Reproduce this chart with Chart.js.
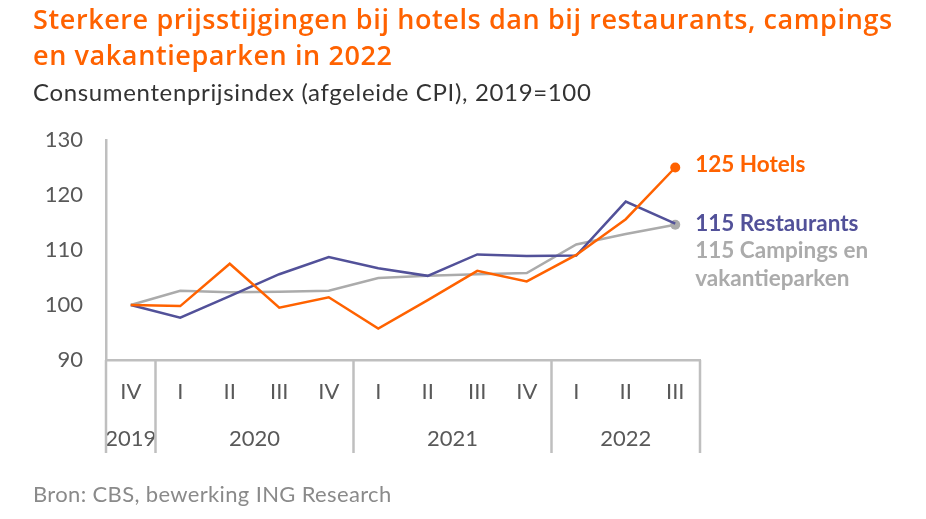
<!DOCTYPE html>
<html>
<head>
<meta charset="utf-8">
<script src="https://cdn.jsdelivr.net/npm/chart.js@4"></script>
<style>
  body { margin: 0; background: #fff; font-family: Lato, sans-serif; }
  #wrap { position: relative; width: 926px; height: 519px; overflow: hidden; }
  #chart { position: absolute; left: 0; top: 0; }
  .title { position: absolute; left: 33px; top: 1px; color: #ff6200; font-family: "Open Sans", sans-serif; font-weight: 600; font-size: 27px; line-height: 36px; letter-spacing: 0.6px; white-space: nowrap; font-variant-ligatures: none; }
  .sub { position: absolute; left: 33px; top: 77px; color: #333; font-size: 24px; line-height: 30px; letter-spacing: 0.65px; white-space: nowrap; font-variant-ligatures: none; }
  .src { position: absolute; left: 33px; top: 481px; color: #8a8a8a; font-size: 22px; line-height: 26px; letter-spacing: 0.35px; white-space: nowrap; }
</style>
</head>
<body>
<div id="wrap">
  <canvas id="chart" width="926" height="519"></canvas>
  <div class="title">Sterkere prijsstijgingen bij hotels dan bij restaurants, campings<br>en vakantieparken in 2022</div>
  <div class="sub">Consumentenprijsindex (afgeleide CPI), 2019=100</div>
  <div class="src">Bron: CBS, bewerking ING Research</div>
</div>
<script>
const quarters = ["IV", "I", "II", "III", "IV", "I", "II", "III", "IV", "I", "II", "III"];
const years = ["2019", "2020", "2021", "2022"];
const quartersPerYear = [1, 4, 4, 3];

const hotels = [100, 99.8, 107.5, 99.5, 101.4, 95.7, 100.9, 106.2, 104.3, 109.1, 115.6, 125];
const restaurants = [100, 97.7, 101.6, 105.6, 108.7, 106.7, 105.3, 109.2, 108.9, 109, 118.8, 114.8];
const campings = [100, 102.6, 102.3, 102.4, 102.6, 104.9, 105.3, 105.6, 105.8, 111, 112.9, 114.6];

const ORANGE = "#ff6200";
const PURPLE = "#525199";
const GREY = "#ababab";
const AXIS = "#bfbfbf";

// year label sits in the middle of its quarters, separators at the year edges
const yearCenters = [];
const yearEdges = [0];
let start = 0;
quartersPerYear.forEach((n) => {
  yearCenters.push(start + (n - 1) / 2);
  start += n;
  yearEdges.push(start);
});

const last = quarters.length - 1;
const endDot = (ctx) => (ctx.dataIndex === last ? 5 : 0);

const endLabels = [
  { data: hotels, color: ORANGE, lines: ["Hotels"], dy: 4 },
  { data: restaurants, color: PURPLE, lines: ["Restaurants"], dy: 7 },
  { data: campings, color: GREY, lines: ["Campings en", "vakantieparken"], dy: 33 },
];

const extras = {
  id: "extras",
  afterDraw(chart) {
    const { ctx, chartArea, scales } = chart;
    const x = scales.x;
    const x2 = scales.x2;
    const half = (x.getPixelForValue(1) - x.getPixelForValue(0)) / 2;
    ctx.save();
    ctx.strokeStyle = AXIS;
    ctx.lineWidth = 2.5;
    yearEdges.forEach((e) => {
      const px = x.getPixelForValue(0) - half + e * half * 2;
      ctx.beginPath();
      ctx.moveTo(px, chartArea.bottom);
      ctx.lineTo(px, x2.bottom);
      ctx.stroke();
    });

    ctx.font = "700 22.5px Lato";
    ctx.textAlign = "left";
    ctx.textBaseline = "alphabetic";
    endLabels.forEach((lab) => {
      const v = lab.data[last];
      const px = x.getPixelForValue(last) + 20;
      const py = scales.y.getPixelForValue(v) + lab.dy;
      ctx.fillStyle = lab.color;
      lab.lines.forEach((t, i) => {
        const txt = i === 0 ? Math.round(v) + " " + t : t;
        ctx.fillText(txt, px, py + i * 28);
      });
    });
    ctx.restore();
  },
};

new Chart(document.getElementById("chart"), {
  type: "line",
  data: {
    labels: quarters,
    datasets: [
      {
        label: "Hotels",
        data: hotels,
        borderColor: ORANGE,
        backgroundColor: ORANGE,
        borderWidth: 2.5,
        pointRadius: endDot,
        pointBorderWidth: 0,
        tension: 0,
      },
      {
        label: "Restaurants",
        data: restaurants,
        borderColor: PURPLE,
        backgroundColor: PURPLE,
        borderWidth: 2.5,
        pointRadius: 0,
        tension: 0,
      },
      {
        label: "Campings en vakantieparken",
        data: campings,
        borderColor: GREY,
        backgroundColor: GREY,
        borderWidth: 2.5,
        pointRadius: endDot,
        pointBorderWidth: 0,
        tension: 0,
      },
    ],
  },
  options: {
    responsive: false,
    animation: false,
    layout: { padding: { top: 140, left: 0, right: 226, bottom: 66 } },
    plugins: { legend: { display: false }, tooltip: { enabled: false } },
    scales: {
      y: {
        min: 90,
        max: 130,
        ticks: { stepSize: 10, padding: 23, color: "#595959", font: { family: "Lato", size: 22 } },
        grid: { display: false, drawTicks: false },
        border: { display: true, color: AXIS, width: 2.5 },
        afterFit: (s) => { s.width = 106; },
      },
      x: {
        offset: true,
        ticks: { padding: 19, color: "#595959", maxRotation: 0, autoSkip: false, font: { family: "Lato", size: 22 } },
        grid: { display: false, drawTicks: false },
        border: { display: true, color: AXIS, width: 2.5 },
        afterFit: (s) => { s.height = 55; },
      },
      x2: {
        type: "linear",
        position: "bottom",
        min: -0.5,
        max: last + 0.5,
        afterBuildTicks: (s) => { s.ticks = yearCenters.map((v) => ({ value: v })); },
        ticks: {
          padding: 11,
          color: "#595959",
          maxRotation: 0,
          autoSkip: false,
          font: { family: "Lato", size: 22 },
          callback: (v) => years[yearCenters.indexOf(v)],
        },
        grid: { display: false, drawTicks: false },
        border: { display: false },
        afterFit: (s) => { s.height = 38; },
      },
    },
  },
  plugins: [extras],
});
</script>
</body>
</html>
